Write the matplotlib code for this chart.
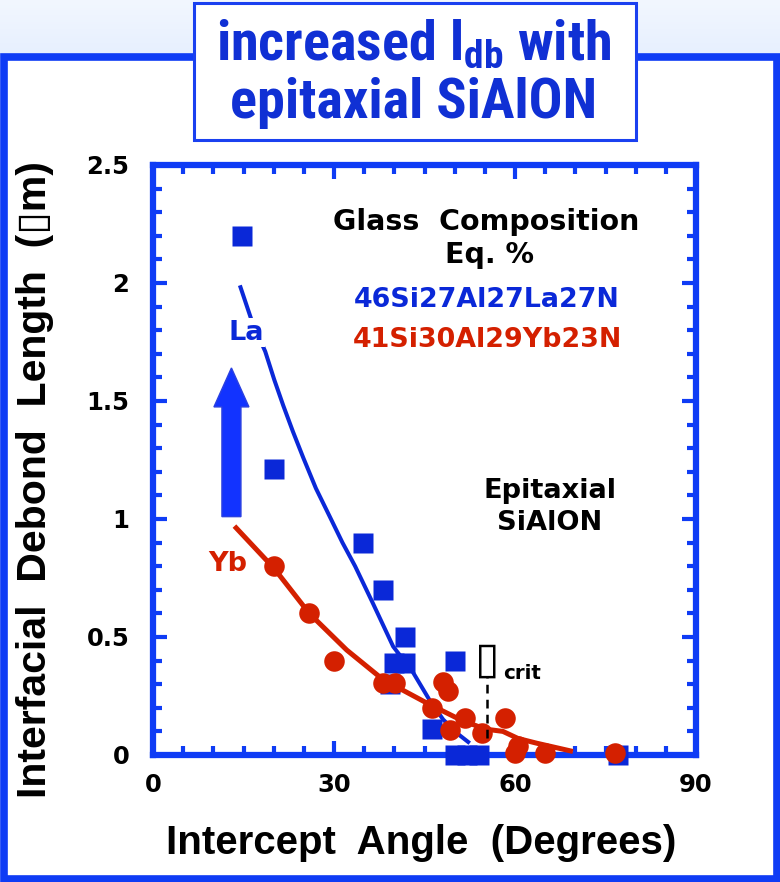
import matplotlib
matplotlib.use("Agg")
import matplotlib.pyplot as plt
from matplotlib import font_manager
from matplotlib.font_manager import FontProperties
from matplotlib.patches import Rectangle, FancyArrow
from matplotlib.ticker import MultipleLocator
import numpy as np

# ---------------- data ----------------
la_x = [14.8, 20.1, 34.8, 38.1, 41.8, 40.0, 41.8, 39.3, 46.2, 50.0, 50.0, 52.0, 54.0, 77.0]
la_y = [2.20, 1.21, 0.90, 0.70, 0.50, 0.39, 0.39, 0.30, 0.11, 0.40, 0.00, 0.00, 0.00, 0.00]

yb_x = [20.1, 25.9, 30.0, 38.1, 40.1, 48.1, 48.9, 46.2, 51.7, 49.2, 54.5, 58.3, 60.5, 60.0, 65.0, 76.5]
yb_y = [0.80, 0.60, 0.40, 0.305, 0.305, 0.31, 0.27, 0.20, 0.155, 0.105, 0.093, 0.155, 0.04, 0.01, 0.01, 0.01]

la_fit_x = [14.4, 16.5, 18.6, 20.1, 21.6, 23.2, 24.9, 27.0, 29.3, 31.4, 33.5, 36.5, 39.8, 43.1, 45.9, 48.1, 50.5, 52.5]
la_fit_y = [1.99, 1.83, 1.71, 1.59, 1.48, 1.37, 1.26, 1.13, 1.01, 0.90, 0.80, 0.64, 0.46, 0.35, 0.23, 0.15, 0.09, 0.05]

yb_fit_x = [13.5, 20.1, 25.9, 32.1, 38.1, 45.4, 50.9, 55.0, 58.0, 60.5, 63.6, 69.6]
yb_fit_y = [0.97, 0.79, 0.60, 0.445, 0.32, 0.22, 0.15, 0.11, 0.10, 0.07, 0.05, 0.015]

x_ticks = [0, 30, 60, 90]
y_ticks = [0, 0.5, 1, 1.5, 2, 2.5]
y_tick_labels = ["0", "0.5", "1", "1.5", "2", "2.5"]

theta_crit_x = 55.4

# ---------------- fonts ----------------
names = {f.name for f in font_manager.fontManager.ttflist}
base = "Liberation Sans" if "Liberation Sans" in names else "DejaVu Sans"
plt.rcParams['font.family'] = [base, 'DejaVu Sans']
plt.rcParams['font.weight'] = 'bold'

# look for a condensed bold face for the title
cands = []
for f in font_manager.fontManager.ttflist:
    nm = f.name + " " + f.fname
    is_cond = (str(f.stretch) in ("condensed", "semi-condensed", "extra-condensed")
               or "Narrow" in nm or "Condensed" in nm)
    is_bold = (f.weight in ("bold", 700, "heavy", 800, "semibold", 600)
               or "Bold" in f.fname)
    if is_cond and is_bold and "Oblique" not in f.fname and "Italic" not in f.fname:
        cands.append(f)
pref = ["Liberation Sans Narrow", "Roboto Condensed", "Arial Narrow", "Open Sans Condensed", "DejaVu Sans"]
cands.sort(key=lambda f: pref.index(f.name) if f.name in pref else 99)
if cands:
    title_prop = FontProperties(fname=cands[0].fname, size=40.5)
else:
    title_prop = FontProperties(family=[base], weight="bold", size=34)

BLUE = "#0a28d8"
RED = "#d42000"
FRAME = "#0f3cf5"
DV = ["DejaVu Sans"]

W, H = 780, 882
fig = plt.figure(figsize=(W / 100, H / 100), dpi=100, facecolor="white")

# background band and frame
bg = fig.add_axes([0, 0, 1, 1], zorder=-10)
bg.set_xlim(0, W); bg.set_ylim(H, 0); bg.axis("off")
grad = np.linspace(0, 1, 60).reshape(-1, 1)
bg.imshow(grad, extent=[0, W, 58, 0], aspect="auto",
          cmap=matplotlib.colors.LinearSegmentedColormap.from_list("g", ["#f2f7ff", "#e6effe"]))
bg.add_patch(Rectangle((3.5, 57), W - 7, H - 60, fill=True, facecolor="white",
                       edgecolor=FRAME, linewidth=5.5))
bg.add_patch(Rectangle((194, 3), 442, 137, facecolor="white", edgecolor="#1a40f0", linewidth=2.2, zorder=5))
bg.text(414, 45, r"increased $\mathregular{l_{db}}$ with", ha="center", va="center",
        fontproperties=title_prop, color="#1030d4", zorder=6)
bg.text(414, 103, "epitaxial SiAlON", ha="center", va="center",
        fontproperties=title_prop, color="#1030d4", zorder=6)

# ---------------- main axes ----------------
ax = fig.add_axes([153 / W, 1 - 755 / H, (696 - 153) / W, (755 - 165) / H])
ax.set_xlim(0, 90)
ax.set_ylim(0, 2.5)

ax.plot(la_fit_x, la_fit_y, color=BLUE, lw=2.9, zorder=2, solid_capstyle="butt")
ax.plot(yb_fit_x, yb_fit_y, color=RED, lw=3.6, zorder=3, solid_capstyle="butt")
ax.plot(la_x, la_y, "s", color=BLUE, ms=15, mec="none", zorder=4, clip_on=False)
ax.plot(yb_x, yb_y, "o", color=RED, ms=14.8, mec="none", zorder=5, clip_on=False)

# arrow
ax.add_patch(FancyArrow(13.0, 1.01, 0, 0.63, width=3.15, head_width=5.8, head_length=0.165,
                        length_includes_head=True, transform=ax.transData,
                        facecolor="#1233ff", edgecolor="#2a40e0", lw=1, zorder=6))

# labels in plot
ax.text(15.4, 1.79, "La", color=BLUE, fontsize=19.5, family=DV, ha="center", va="center", zorder=7,
        bbox=dict(facecolor="white", edgecolor="none", pad=1))
ax.text(12.4, 0.81, "Yb", color=RED, fontsize=19.5, family=DV, ha="center", va="center", zorder=7)

ax.text(55.3, 2.26, "Glass  Composition", color="black", fontsize=20.5, family=DV, ha="center", va="center")
ax.text(55.7, 2.12, "Eq. %", color="black", fontsize=20.5, family=DV, ha="center", va="center")
ax.text(55.4, 1.93, "46Si27Al27La27N", color=BLUE, fontsize=19.4, family=DV, ha="center", va="center")
ax.text(55.4, 1.76, "41Si30Al29Yb23N", color=RED, fontsize=19.4, family=DV, ha="center", va="center")
ax.text(65.8, 1.12, "Epitaxial", color="black", fontsize=19.6, family=DV, ha="center", va="center")
ax.text(65.8, 0.985, "SiAlON", color="black", fontsize=19.6, family=DV, ha="center", va="center")

# theta crit
ax.text(theta_crit_x, 0.40, "\u25af", family=DV, fontsize=32, weight="bold",
        ha="center", va="center", color="black")
ax.text(theta_crit_x + 2.6, 0.345, "crit", fontsize=14.3, family=DV, ha="left", va="center", color="black")
ax.plot([theta_crit_x, theta_crit_x], [0.07, 0.335], color="black", lw=1.8, ls=(0, (3.5, 2.5)), zorder=6)

# ticks & spines
ax.set_xticks(x_ticks)
ax.set_yticks(y_ticks)
ax.set_yticklabels(y_tick_labels)
ax.xaxis.set_minor_locator(MultipleLocator(5))
ax.yaxis.set_minor_locator(MultipleLocator(0.1))
ax.tick_params(which="both", direction="in", top=True, right=True, color=FRAME,
               labelsize=17.5, labelcolor="black")
ax.tick_params(which="major", length=10, width=3)
ax.tick_params(which="minor", length=6.5, width=3)
ax.tick_params(axis="x", which="major", pad=13)
ax.tick_params(axis="y", which="major", pad=17)
for s in ax.spines.values():
    s.set_color(FRAME)
    s.set_linewidth(4.5)
for lab in ax.get_xticklabels() + ax.get_yticklabels():
    lab.set_fontweight("bold")
    lab.set_family(DV)

ax.set_xlabel("Intercept  Angle  (Degrees)", fontsize=29, weight="bold")
ax.xaxis.set_label_coords(0.494, -0.149)
ax.xaxis.label.set_va("center")
ax.set_ylabel("Interfacial  Debond  Length  (\u25afm)", fontsize=29.5, weight="bold",
              family=[base, "DejaVu Sans"])
ax.yaxis.set_label_coords(-0.217, 0.466)
ax.yaxis.label.set_va("center")

fig.savefig("out.png", dpi=100, facecolor="white")
